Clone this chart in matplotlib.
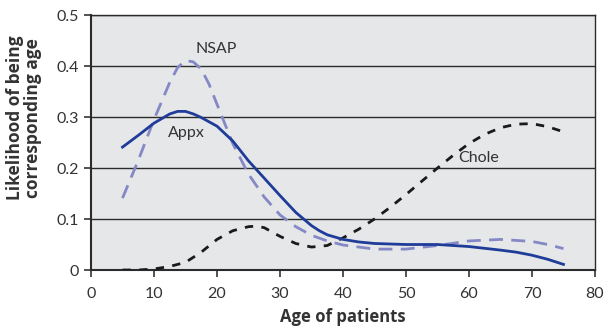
import matplotlib
matplotlib.use("Agg")
import matplotlib.pyplot as plt

plt.rcParams["font.family"] = ["Lato", "DejaVu Sans"]

appx_age = [5, 7.5, 10, 12.5, 13.75, 15, 16.25, 17.5, 20, 22.5, 25, 27.5, 30,
            32.5, 35, 36.25, 37.5, 40, 42.5, 45, 50, 55, 60, 65, 67.5, 70, 72.5, 75]
appx = [0.241, 0.264, 0.288, 0.306, 0.311, 0.311, 0.306, 0.299, 0.282, 0.253,
        0.214, 0.180, 0.146, 0.113, 0.087, 0.077, 0.069, 0.060, 0.055, 0.052,
        0.050, 0.050, 0.046, 0.039, 0.035, 0.029, 0.021, 0.011]

nsap_age = [5, 7.5, 10, 12.5, 13.75, 15, 16.25, 17.5, 18.75, 20, 22.5, 25, 27.5,
            30, 32.5, 35, 37.5, 40, 45, 50, 55, 60, 65, 70, 72.5, 75]
nsap = [0.141, 0.215, 0.295, 0.368, 0.397, 0.411, 0.408, 0.394, 0.364, 0.325,
        0.248, 0.188, 0.143, 0.108, 0.085, 0.068, 0.057, 0.049, 0.041, 0.041,
        0.048, 0.057, 0.060, 0.056, 0.050, 0.042]

chole_age = [5, 7.5, 10, 12.5, 15, 17.5, 20, 22.5, 25, 26.25, 27.5, 30, 32.5, 35,
             37.5, 40, 42.5, 45, 47.5, 50, 52.5, 55, 57.5, 60, 62.5, 65, 67.5,
             70, 72.5, 75]
chole = [0.000, 0.000, 0.002, 0.007, 0.015, 0.035, 0.060, 0.077, 0.085, 0.086,
         0.083, 0.066, 0.052, 0.045, 0.048, 0.063, 0.080, 0.100, 0.123, 0.148,
         0.174, 0.200, 0.225, 0.248, 0.266, 0.279, 0.286, 0.287, 0.281, 0.271]

x_ticks = [0, 10, 20, 30, 40, 50, 60, 70, 80]
y_ticks = [0, 0.1, 0.2, 0.3, 0.4, 0.5]
y_tick_labels = ["0", "0.1", "0.2", "0.3", "0.4", "0.5"]

fig = plt.figure(figsize=(6.08, 3.30), dpi=100)
ax = fig.add_axes([0.1497, 0.1818, 0.8289, 0.7727])
ax.set_facecolor("#e6e7e8")

for y in y_ticks[1:]:
    ax.axhline(y, color="#2b2b2b", lw=1.0, zorder=1)

ax.plot(nsap_age, nsap, color="#8588c6", lw=2.0, dashes=(5, 3), zorder=3,
        dash_joinstyle="round", dash_capstyle="butt")
ax.plot(chole_age, chole, color="#1a1a1a", lw=2.0, dashes=(3, 3), zorder=3,
        dash_joinstyle="round")
ax.plot(appx_age, appx, color="#1f3c99", lw=2.0, zorder=4, solid_joinstyle="round")

ax.text(19.8, 0.433, "NSAP", fontsize=11.5, color="#333333", ha="center", va="center")
ax.text(15.2, 0.268, "Appx", fontsize=11.5, color="#333333", ha="center", va="center")
ax.text(61.6, 0.219, "Chole", fontsize=11.5, color="#333333", ha="center", va="center")

ax.set_xlim(0, 80)
ax.set_ylim(0, 0.5)
ax.set_xticks(x_ticks)
ax.set_yticks(y_ticks)
ax.set_yticklabels(y_tick_labels)
ax.tick_params(axis="both", labelsize=11.5, colors="#333333", length=5, width=1.2,
               direction="out")
ax.tick_params(axis="x", pad=7)

for side in ["left", "bottom"]:
    ax.spines[side].set_color("#2b2b2b")
    ax.spines[side].set_linewidth(1.5)
for side in ["top", "right"]:
    ax.spines[side].set_color("#2b2b2b")
    ax.spines[side].set_linewidth(1.0)

ax.set_xlabel("Age of patients", fontsize=12, fontweight="bold", color="#333333",
              family=["Open Sans", "DejaVu Sans"], labelpad=5)
ax.set_ylabel("Likelihood of being\ncorresponding age", fontsize=12.5, fontweight="bold",
              color="#333333", family=["Open Sans", "DejaVu Sans"], linespacing=1.0)
ax.yaxis.set_label_coords(-0.097, 0.596)

fig.savefig("out.png", dpi=100)
